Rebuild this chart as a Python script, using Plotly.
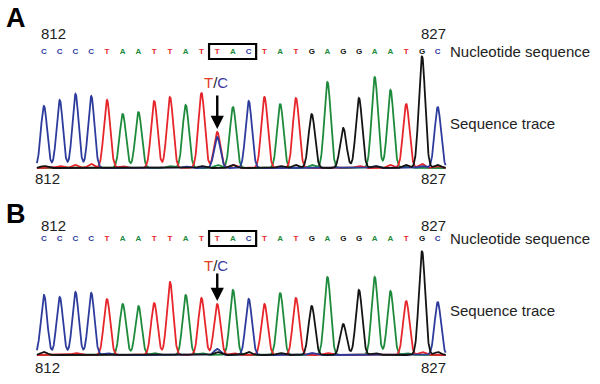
import numpy as np
import plotly.graph_objects as go

# ---------------- data ----------------
SEQUENCE = list("CCCCTAATTATTACTATGAGGAATGC")
FIRST_POS, LAST_POS = 812, 827
HIGHLIGHT = (12, 14)      # boxed codon (TAC), 1-based indices
SNP_INDEX = 12            # T/C position

# primary peak heights per base call (panel A heterozygous, panel B homozygous)
PEAKS_A = [62, 68, 74, 72, 68, 54, 56, 67, 71, 63, 75, 36, 61, 67, 71, 64, 70,
           54, 86, 40, 70, 91, 78, 64, 112, 61]
PEAKS_B = [60, 58, 63, 62, 56, 51, 49, 52, 73, 60, 57, 51, 65, 56, 51, 62, 57,
           47, 78, 31, 65, 78, 64, 54, 104, 53]

# secondary / background peaks: base -> list of (index, height)
MINOR_A = {
    "C": [(12, 31), (10, 1.5), (22, 2), (25, 2)],
    "T": [(2, 2), (3, 3), (4, 4), (6, 2), (13, 3), (21, 2), (23, 3), (25, 4), (26, 2)],
    "A": [(12, 3), (18, 3), (24, 2), (9, 2)],
    "G": [(1, 2), (11, 2), (13, 3), (16, 2), (17, 3), (22, 2), (24, 3), (26, 3)],
}
MINOR_B = {
    "C": [(12, 6), (5, 2), (18, 2)],
    "T": [(3, 2), (13, 2), (19, 2), (25, 3)],
    "A": [(8, 2), (11, 2), (24, 2)],
    "G": [(1, 3), (12, 3), (14, 3), (16, 2), (18, 2), (22, 2), (26, 3)],
}

COLORS = {"A": "#1e8a3c", "C": "#2d3c9c", "G": "#141414", "T": "#e6262b"}
DRAW_ORDER = ["A", "T", "C", "G"]

# ---------------- layout constants ----------------
W, H = 600, 384
PX0, STEP = 44.0, 15.75           # pixel x of base 1, pixels per base
BASE_A, BASE_B = 168, 355         # pixel y of trace baselines
SIG = 0.2
FONT = "Liberation Sans, Arial, sans-serif"

xs = np.linspace(0.55, 26.5, 1400)


def channel(base, peaks, minor):
    y = np.zeros_like(xs)
    for i, (b, h) in enumerate(zip(SEQUENCE, peaks), start=1):
        if b == base:
            y += h * np.exp(-0.5 * ((xs - i) / SIG) ** 2)
    for i, h in minor.get(base, []):
        y += h * np.exp(-0.5 * ((xs - i) / SIG) ** 2)
    return y


fig = go.Figure()
idx = list(range(1, len(SEQUENCE) + 1))
for yax, peaks, minor in (("y", PEAKS_A, MINOR_A), ("y2", PEAKS_B, MINOR_B)):
    for b in DRAW_ORDER:
        fig.add_trace(go.Scatter(x=xs, y=channel(b, peaks, minor), mode="lines",
                                 line=dict(color=COLORS[b], width=1.8),
                                 yaxis=yax, hoverinfo="skip", showlegend=False))
    fig.add_trace(go.Scatter(x=idx, y=[116] * len(idx), mode="text", text=SEQUENCE,
                             textfont=dict(color=[COLORS[b] for b in SEQUENCE], size=8,
                                           family=FONT, weight="bold"),
                             yaxis=yax, hoverinfo="skip", showlegend=False))


def px_to_i(px):
    return 1 + (px - PX0) / STEP


annotations = []
shapes = []
for yref, base_px, peaks, minor, tc_v, arrow_len, top_num_v, bot_num_v, label, label_y in (
        ("y", BASE_A, PEAKS_A, MINOR_A, 86, 35, 135, -10, "A", 18),
        ("y2", BASE_B, PEAKS_B, MINOR_B, 90, 29, 130, -12, "B", 214)):
    # box around codon
    shapes.append(dict(type="rect", xref="x", yref=yref,
                       x0=HIGHLIGHT[0] - 0.52, x1=HIGHLIGHT[1] + 0.47, y0=109, y1=124,
                       line=dict(color="black", width=2.2), fillcolor="rgba(0,0,0,0)"))
    # arrow at SNP
    snp_h = max([peaks[SNP_INDEX - 1]] + [h for b in minor for i, h in minor[b] if i == SNP_INDEX])
    annotations.append(dict(x=SNP_INDEX, y=snp_h + 3, xref="x", yref=yref, text="",
                            showarrow=True, arrowhead=2, arrowsize=1.1, arrowwidth=2.4,
                            arrowcolor="black", ax=0, ay=-arrow_len))
    annotations.append(dict(x=SNP_INDEX - 0.1, y=tc_v, xref="x", yref=yref, showarrow=False,
                            text="<span style='color:#e0401e'>T</span>/<span style='color:#3a3a9c'>C</span>",
                            font=dict(size=15, family=FONT, color="#222")))
    # position numbers
    annotations.append(dict(x=1.6, y=top_num_v, xref="x", yref=yref, text=str(FIRST_POS),
                            showarrow=False, font=dict(size=15, family=FONT, color="#222")))
    annotations.append(dict(x=25.7, y=top_num_v, xref="x", yref=yref, text=str(LAST_POS),
                            showarrow=False, font=dict(size=15, family=FONT, color="#222")))
    annotations.append(dict(x=1.2, y=bot_num_v, xref="x", yref=yref, text=str(FIRST_POS),
                            showarrow=False, font=dict(size=15, family=FONT, color="#222")))
    annotations.append(dict(x=25.7, y=bot_num_v, xref="x", yref=yref, text=str(LAST_POS),
                            showarrow=False, font=dict(size=15, family=FONT, color="#222")))
    # right-hand labels
    annotations.append(dict(x=px_to_i(448), y=117, xref="x", yref=yref, xanchor="left",
                            text="Nucleotide sequence", showarrow=False,
                            font=dict(size=15, family=FONT, color="#222")))
    annotations.append(dict(x=px_to_i(448), y=45, xref="x", yref=yref, xanchor="left",
                            text="Sequence trace", showarrow=False,
                            font=dict(size=15, family=FONT, color="#222")))
    # panel letter
    annotations.append(dict(x=16 / W, y=1 - label_y / H, xref="paper", yref="paper",
                            xanchor="center", yanchor="middle",
                            text=f"<b>{label}</b>", showarrow=False,
                            font=dict(size=27, family=FONT, color="black")))

fig.update_layout(
    width=W, height=H, margin=dict(l=0, r=0, t=0, b=0),
    paper_bgcolor="white", plot_bgcolor="white",
    xaxis=dict(range=[px_to_i(0), px_to_i(W)], visible=False, fixedrange=True),
    yaxis=dict(range=[BASE_A - H, BASE_A], visible=False, domain=[0, 1], fixedrange=True),
    yaxis2=dict(range=[BASE_B - H, BASE_B], visible=False, overlaying="y", fixedrange=True),
    annotations=annotations, shapes=shapes, showlegend=False, hovermode=False,
)

fig.write_html("out.html", config={"displayModeBar": False, "staticPlot": True},
               post_script="document.body.style.margin='0';document.body.style.padding='0';")
